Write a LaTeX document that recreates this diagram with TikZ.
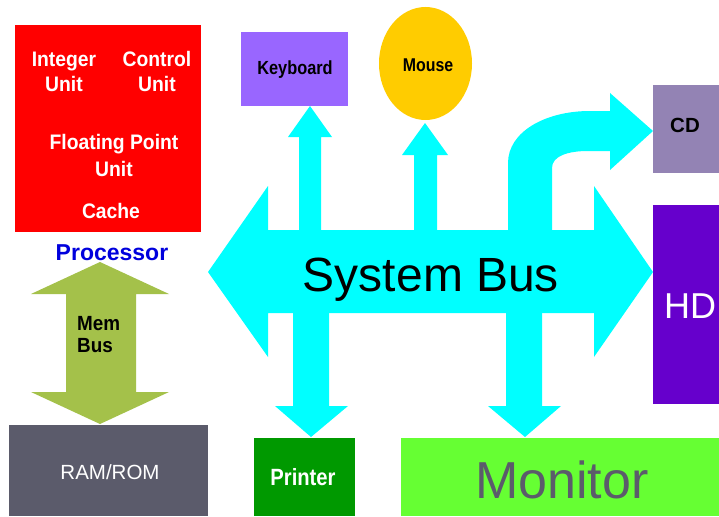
\documentclass[tikz,border=0pt]{standalone}
\usepackage{fontspec}
\usetikzlibrary{shapes.geometric}
\setmainfont{Liberation Sans}
\newfontfamily\narrowA[FakeStretch=0.92]{Liberation Sans}
\newfontfamily\narrowB[FakeStretch=0.86]{Liberation Sans}
\definecolor{busc}{HTML}{00FFFF}
\definecolor{procred}{HTML}{FF0000}
\definecolor{procblue}{HTML}{0000DD}
\definecolor{memgreen}{HTML}{A4C14A}
\definecolor{ramgray}{HTML}{5B5B6B}
\definecolor{kbd}{HTML}{9966FF}
\definecolor{mouse}{HTML}{FFCC00}
\definecolor{cdc}{HTML}{9383B4}
\definecolor{hdc}{HTML}{6600CC}
\definecolor{prn}{HTML}{009900}
\definecolor{mon}{HTML}{66FF33}
\begin{document}
\begin{tikzpicture}[x=1pt,y=-1pt,
  box/.style={inner sep=0pt, outer sep=0pt, draw=none},
  lbl/.style={inner sep=0pt, anchor=base, align=center},
  bold/.style={font=\fontsize{#1}{#1}\selectfont\bfseries},
  boldA/.style={font=\narrowA\fontsize{#1}{#1}\selectfont\bfseries},
  boldB/.style={font=\narrowB\fontsize{#1}{#1}\selectfont\bfseries},
  reg/.style={font=\fontsize{#1}{#1}\selectfont}]
\useasboundingbox (0,0) rectangle (719,516);
\fill[white] (0,0) rectangle (719,516);

% boxes
\node[box, fill=procred, minimum width=186pt, minimum height=207pt] (proc) at (108,128.5) {};
\node[box, fill=kbd, minimum width=107pt, minimum height=74pt] (kb) at (294.5,69) {};
\node[box, ellipse, fill=mouse, minimum width=93pt, minimum height=113pt] (ms) at (425.5,63.5) {};
\node[box, fill=cdc, minimum width=66pt, minimum height=88pt] (cd) at (686,129) {};
\node[box, fill=hdc, minimum width=66pt, minimum height=199pt] (hd) at (686,304.5) {};
\node[box, fill=ramgray, minimum width=199pt, minimum height=91pt] (ram) at (108.5,470.5) {};
\node[box, fill=prn, minimum width=101pt, minimum height=78pt] (prn) at (304.5,477) {};
\node[box, fill=mon, minimum width=318pt, minimum height=78pt] (mon) at (560,477) {};

% memory bus double arrow
\fill[memgreen] (100,262) -- (169,294) -- (136,294) -- (136,392) -- (169,392)
  -- (100,424) -- (31,392) -- (66,392) -- (66,294) -- (31,294) -- cycle;

% system bus
\fill[busc] (208,272) -- (268,186) -- (268,230) -- (594,230) -- (594,186) -- (653,272)
  -- (594,357) -- (594,313) -- (268,313) -- (268,357) -- cycle;
% keyboard arrow
\fill[busc] (299,231) -- (299,137) -- (288,137) -- (310,106) -- (332,137) -- (321,137) -- (321,231) -- cycle;
% mouse arrow
\fill[busc] (414,231) -- (414,155) -- (402,155) -- (425,123) -- (448,155) -- (437,155) -- (437,231) -- cycle;
% printer arrow
\fill[busc] (293,312) -- (293,406) -- (275,406) -- (311,437) -- (348,406) -- (329,406) -- (329,312) -- cycle;
% monitor arrow
\fill[busc] (506,312) -- (506,406) -- (488,406) -- (525,437) -- (561,406) -- (542,406) -- (542,312) -- cycle;
% CD curved arrow
\fill[busc] (508,231) -- (508,163) .. controls (508,132) and (545,111) .. (590,111)
  -- (610,111) -- (610,93) -- (653,131) -- (610,170) -- (610,151) -- (588,151)
  .. controls (568,151) and (552,156) .. (552,168) -- (552,231) -- cycle;

% labels
\node[lbl, boldA=21, text=white] (intu) at (64,67) {Integer};
\node[lbl, boldA=21, text=white] (intu2) at (64,92) {Unit};
\node[lbl, boldA=21, text=white] (ctlu) at (157,67) {Control};
\node[lbl, boldA=21, text=white] (ctlu2) at (157,92) {Unit};
\node[lbl, boldA=21, text=white] (fpu) at (114,149) {Floating Point};
\node[lbl, boldA=21, text=white] (fpu2) at (114,176) {Unit};
\node[lbl, boldA=21, text=white] (cache) at (111,218) {Cache};
\node[lbl, bold=23, text=procblue] (proct) at (112,260) {Processor};
\node[lbl, boldA=20.5, anchor=base west] (mem) at (77,330) {Mem};
\node[lbl, boldA=20.5, anchor=base west] (mem2) at (77,352) {Bus};
\node[lbl, reg=20.5, text=white] (ramt) at (110,479) {RAM/ROM};
\node[lbl, boldB=19] (kbt) at (295,75) {Keyboard};
\node[lbl, boldB=18.5] (mst) at (428,72) {Mouse};
\node[lbl, bold=20.5] (cdt) at (685,132) {CD};
\node[lbl, reg=36, text=white] (hdt) at (690,318) {HD};
\node[lbl, reg=48] (bust) at (431,291) {System Bus};
\node[lbl, boldB=23.5, text=white] (prnt) at (303,485) {Printer};
\node[lbl, reg=52, text=ramgray] (mont) at (562,498) {Monitor};
\end{tikzpicture}
\end{document}
